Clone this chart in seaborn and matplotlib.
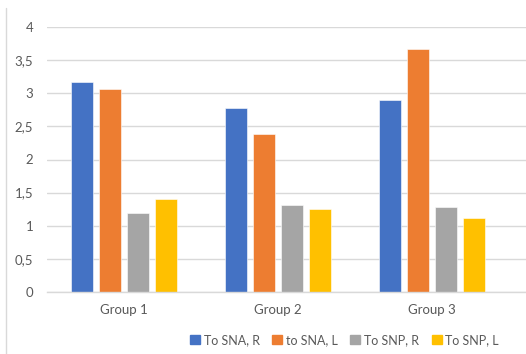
import matplotlib
matplotlib.use("Agg")
import matplotlib.pyplot as plt
from matplotlib.lines import Line2D
from matplotlib.ticker import FixedLocator, FixedFormatter
import seaborn as sns
import pandas as pd

# Data
groups = ["Group 1", "Group 2", "Group 3"]
series = ["To SNA, R", "to SNA, L", "To SNP, R", "To SNP, L"]
to_sna_r = [3.17, 2.77, 2.90]
to_sna_l = [3.07, 2.39, 3.67]
to_snp_r = [1.20, 1.32, 1.28]
to_snp_l = [1.40, 1.25, 1.11]
ytick_values = [0, 0.5, 1, 1.5, 2, 2.5, 3, 3.5, 4]
ytick_labels = ["0", "0,5", "1", "1,5", "2", "2,5", "3", "3,5", "4"]
colors = ["#4472C4", "#ED7D31", "#A5A5A5", "#FFC000"]

rows = []
for name, vals in zip(series, [to_sna_r, to_sna_l, to_snp_r, to_snp_l]):
    for g, v in zip(groups, vals):
        rows.append({"group": g, "series": name, "value": v})
df = pd.DataFrame(rows)

sns.set_theme(style="white")
plt.rcParams["font.family"] = ["Lato", "DejaVu Sans"]

fig = plt.figure(figsize=(5.26, 3.54), dpi=100)
ax = fig.add_axes([47 / 526, (354 - 292) / 354, 1 - 47 / 526, (292 - 27) / 354])

sns.barplot(data=df, x="group", y="value", hue="series", hue_order=series,
            palette=colors, saturation=1, width=0.73, gap=0.22, ax=ax,
            edgecolor="white", linewidth=0.4, legend=False, errorbar=None)

ax.set_xlim(-0.5, -0.5 + 479 / 154)
ax.set_ylim(0, 4)
ax.yaxis.set_major_locator(FixedLocator(ytick_values))
ax.yaxis.set_major_formatter(FixedFormatter(ytick_labels))
ax.grid(axis="y", color="#d9d9d9", linewidth=1.0)
ax.set_axisbelow(True)
for s in ["top", "right", "left"]:
    ax.spines[s].set_visible(False)
ax.spines["bottom"].set_color("#d9d9d9")
ax.spines["bottom"].set_linewidth(1.0)
ax.tick_params(axis="y", length=0, pad=10, labelsize=9.5, labelcolor="#595959")
ax.tick_params(axis="x", length=0, pad=9, labelsize=9.5, labelcolor="#595959")
ax.set_xlabel("")
ax.set_ylabel("")

# Chart frame edge on the left
fig.add_artist(Line2D([5.5 / 526, 5.5 / 526], [0, (354 - 8) / 354],
                      transform=fig.transFigure, color="#d9d9d9", linewidth=1.0))

handles = [plt.Rectangle((0, 0), 1, 1, color=c) for c in colors]
fig.legend(handles, series, loc="center", bbox_to_anchor=(344.5 / 526, 14 / 354),
           ncol=4, frameon=False, fontsize=9, labelcolor="#595959",
           handlelength=0.8, handleheight=0.8, handletextpad=0.3,
           columnspacing=1.0, borderpad=0, borderaxespad=0)

fig.savefig("out.png", dpi=100)
